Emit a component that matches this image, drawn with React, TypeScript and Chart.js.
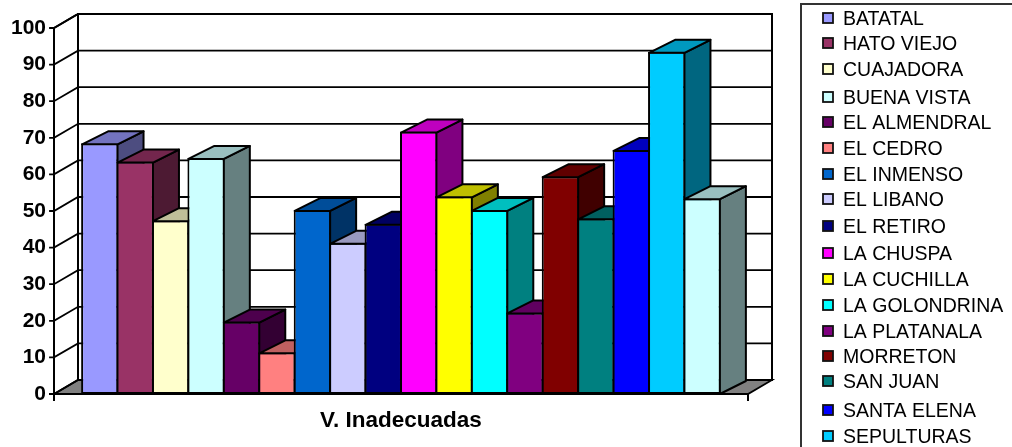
import React, { useEffect, useRef } from "react";
import { Chart, registerables } from "chart.js";

Chart.register(...registerables);

const categories = ["V. Inadecuadas"];
const seriesNames = [
  "BATATAL", "HATO VIEJO", "CUAJADORA", "BUENA VISTA", "EL ALMENDRAL", "EL CEDRO",
  "EL INMENSO", "EL LIBANO", "EL RETIRO", "LA CHUSPA", "LA CUCHILLA", "LA GOLONDRINA",
  "LA PLATANALA", "MORRETON", "SAN JUAN", "SANTA ELENA", "SEPULTURAS", "",
];
const seriesValues = [68.5, 63.5, 47.5, 64.5, 19.8, 11.4, 50.3, 41.3, 46.5, 71.7, 54, 50.3, 22.3, 59.5, 48, 66.7, 93.5, 53.5];
const seriesColors = [
  "#9999FF", "#993366", "#FFFFCC", "#CCFFFF", "#660066", "#FF8080",
  "#0066CC", "#CCCCFF", "#000080", "#FF00FF", "#FFFF00", "#00FFFF",
  "#800080", "#800000", "#008080", "#0000FF", "#00CCFF", "#CCFFFF",
];
const legendRowCenters = [18, 43, 69, 97, 122, 148, 174, 199, 226, 253, 279, 305, 331, 356, 381, 410, 436];

const WALL_DX = 24, WALL_DY = 14, BAR_DX = 26, BAR_DY = 13;

function shade(hex: string, f: number) {
  const n = parseInt(hex.slice(1), 16);
  return `rgb(${Math.round(((n >> 16) & 255) * f)},${Math.round(((n >> 8) & 255) * f)},${Math.round((n & 255) * f)})`;
}

function poly(ctx: CanvasRenderingContext2D, pts: number[][], fill?: string) {
  ctx.beginPath();
  pts.forEach((p, i) => (i ? ctx.lineTo(p[0], p[1]) : ctx.moveTo(p[0], p[1])));
  ctx.closePath();
  if (fill) { ctx.fillStyle = fill; ctx.fill(); }
  ctx.stroke();
}

const threeD = {
  id: "threeD",
  beforeDatasetsDraw(chart: any) {
    const ctx: CanvasRenderingContext2D = chart.ctx;
    const { left, right, top, bottom } = chart.chartArea;
    const yS = chart.scales.y;
    ctx.save();
    ctx.strokeStyle = "#000";
    ctx.lineCap = "square";
    ctx.lineWidth = 1.8;
    // floor
    poly(ctx, [[left, bottom], [left + WALL_DX, bottom - WALL_DY], [right + WALL_DX, bottom - WALL_DY], [right, bottom]], "#808080");
    // grid
    yS.ticks.forEach((t: any, i: number) => {
      const y = yS.getPixelForTick(i);
      ctx.lineWidth = 1.8;
      ctx.beginPath();
      ctx.moveTo(left - 4, y);
      ctx.lineTo(left, y);
      ctx.lineTo(left + WALL_DX, y - WALL_DY);
      ctx.lineTo(right + WALL_DX, y - WALL_DY);
      ctx.stroke();
    });
    // walls
    ctx.lineWidth = 2;
    ctx.beginPath();
    ctx.moveTo(left, bottom);
    ctx.lineTo(left, top);
    ctx.lineTo(left + WALL_DX, top - WALL_DY);
    ctx.lineTo(right + WALL_DX, top - WALL_DY);
    ctx.lineTo(right + WALL_DX, bottom - WALL_DY);
    ctx.moveTo(left + WALL_DX, top - WALL_DY);
    ctx.lineTo(left + WALL_DX, bottom - WALL_DY);
    ctx.stroke();

    // bars, left to right, so each one hides the side of the one before
    chart.getSortedVisibleDatasetMetas()
      .slice()
      .sort((a: any, b: any) => a.index - b.index)
      .forEach((meta: any) => {
        const color = seriesColors[meta.index];
        meta.controller.draw();
        const el = meta.data[0];
        const { x, y, base, width } = el.getProps(["x", "y", "base", "width"], true);
        const x0 = x - width / 2 + 1, x1 = x + width / 2 - 1, yT = y + 1;
        ctx.lineWidth = 2;
        ctx.lineJoin = "round";
        poly(ctx, [[x1, yT], [x1 + BAR_DX, yT - BAR_DY], [x1 + BAR_DX, base - BAR_DY], [x1, base]], shade(color, 0.5));
        poly(ctx, [[x0, yT], [x0 + BAR_DX, yT - BAR_DY], [x1 + BAR_DX, yT - BAR_DY], [x1, yT]], shade(color, 0.75));
      });

    // front baseline and end ticks
    ctx.lineWidth = 2;
    ctx.beginPath();
    ctx.moveTo(left - 4, bottom);
    ctx.lineTo(right, bottom);
    ctx.moveTo(left, bottom);
    ctx.lineTo(left, bottom + 6);
    ctx.moveTo(right, bottom);
    ctx.lineTo(right, bottom + 6);
    ctx.stroke();
    ctx.restore();
    return false;
  },
  afterDraw(chart: any) {
    const ctx: CanvasRenderingContext2D = chart.ctx;
    ctx.save();
    // legend frame, running off the picture on the right and at the bottom
    ctx.strokeStyle = "#333";
    ctx.lineWidth = 2;
    ctx.strokeRect(801, 4, 400, 600);
    ctx.font = '19.5px "Liberation Sans"';
    ctx.textBaseline = "middle";
    chart.data.datasets.forEach((ds: any, i: number) => {
      const yc = legendRowCenters[i];
      if (yc === undefined) return;
      ctx.fillStyle = seriesColors[i];
      ctx.strokeStyle = "#111";
      ctx.lineWidth = 1.8;
      ctx.fillRect(823, yc - 5, 10, 10);
      ctx.strokeRect(823, yc - 5, 10, 10);
      ctx.fillStyle = "#000";
      ctx.fillText(ds.label, 843, yc + 2);
    });
    ctx.restore();
  },
};

export default function App() {
  const ref = useRef<HTMLCanvasElement>(null);
  useEffect(() => {
    document.body.style.margin = "0";
    const chart = new Chart(ref.current!, {
      type: "bar",
      data: {
        labels: categories,
        datasets: seriesNames.map((name, i) => ({
          label: name,
          data: [seriesValues[i]],
          backgroundColor: seriesColors[i],
          borderColor: "#000",
          borderWidth: 2,
          borderSkipped: false,
        })),
      },
      options: {
        animation: false,
        responsive: false,
        layout: { padding: { left: 0, top: 28, right: 264, bottom: 0 } },
        plugins: { legend: { display: false }, tooltip: { enabled: false }, title: { display: false } },
        datasets: { bar: { categoryPercentage: 0.919, barPercentage: 1.056 } },
        scales: {
          x: {
            grid: { display: false, drawTicks: false },
            border: { display: false },
            ticks: { color: "#000", font: { family: "Liberation Sans", size: 22.5, weight: "bold" }, padding: 13, maxRotation: 0 },
            afterFit: (s: any) => { s.height = 53; },
          },
          y: {
            min: 0,
            max: 100,
            grid: { display: false, drawTicks: false },
            border: { display: false },
            ticks: { stepSize: 10, color: "#000", font: { family: "Liberation Sans", size: 21, weight: "bold" }, padding: 8 },
            afterFit: (s: any) => { s.width = 54; },
          },
        },
      },
      plugins: [threeD],
    } as any);
    return () => chart.destroy();
  }, []);
  return <canvas ref={ref} width={1012} height={447} style={{ display: "block" }} />;
}
